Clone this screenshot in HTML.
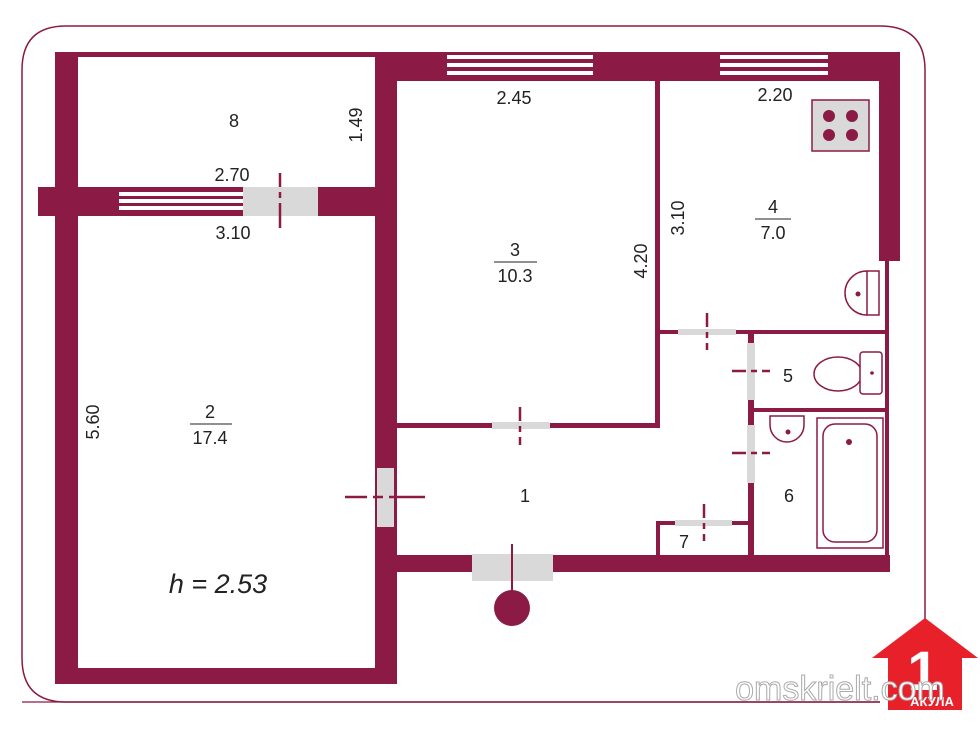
<!DOCTYPE html>
<html><head><meta charset="utf-8"><style>
html,body{margin:0;padding:0;background:#fff;}
svg{display:block;}
text{font-family:"Liberation Sans",sans-serif;fill:#222;}
</style></head><body>
<svg width="980" height="733" viewBox="0 0 980 733" xmlns="http://www.w3.org/2000/svg">
<path d="M925 620 L925 70 Q925 26 880 26 L66 26 Q22 26 22 70 L22 658 Q22 702 66 702 L880 702" fill="none" stroke="#8b1a45" stroke-width="1.5"/>
<g fill="#8b1a45">
<rect x="55" y="52" width="23" height="632"/>
<rect x="55" y="52" width="320" height="5"/>
<rect x="38" y="187" width="337" height="29"/>
<rect x="55" y="668" width="342" height="16"/>
<rect x="375" y="52" width="22" height="632"/>
<rect x="375" y="52" width="525" height="29"/>
<rect x="879" y="52" width="21" height="209"/>
<rect x="885" y="261" width="4" height="311"/>
<rect x="655" y="81" width="5" height="346"/>
<rect x="397" y="423" width="263" height="5"/>
<rect x="655" y="330" width="234" height="4"/>
<rect x="748" y="330" width="6" height="242"/>
<rect x="750" y="408" width="139" height="4"/>
<rect x="656" y="521" width="98" height="4"/>
<rect x="656" y="521" width="4" height="40"/>
<rect x="397" y="555" width="493" height="17"/>
</g>
<g>
<rect x="117" y="190" width="126" height="23" fill="#8b1a45"/>
<rect x="119" y="192" width="124" height="4" fill="#fff"/>
<rect x="119" y="199" width="124" height="4" fill="#fff"/>
<rect x="119" y="206" width="124" height="4" fill="#fff"/>
<rect x="447" y="55" width="146" height="4" fill="#fff"/>
<rect x="447" y="63" width="146" height="4" fill="#fff"/>
<rect x="447" y="71" width="146" height="4" fill="#fff"/>
<rect x="720" y="55" width="108" height="4" fill="#fff"/>
<rect x="720" y="63" width="108" height="4" fill="#fff"/>
<rect x="720" y="71" width="108" height="4" fill="#fff"/>
</g>
<g fill="#d9d9d9">
<rect x="243" y="187" width="75" height="29"/>
<rect x="492" y="422" width="58" height="7"/>
<rect x="678" y="329" width="58" height="6"/>
<rect x="747" y="343" width="8" height="57"/>
<rect x="747" y="425" width="8" height="58"/>
<rect x="675" y="520" width="57" height="6"/>
<rect x="377" y="468" width="17" height="59"/>
<rect x="472" y="554" width="81" height="27"/>
</g>
<g stroke="#8b1a45" stroke-width="2.5" stroke-dasharray="14,5,6,5,30" fill="none">
<line x1="280" y1="173" x2="280" y2="228"/>
<line x1="520" y1="407" x2="520" y2="445"/>
<line x1="707" y1="313" x2="707" y2="350"/>
<line x1="732" y1="371" x2="770" y2="371"/>
<line x1="732" y1="453" x2="770" y2="453"/>
<line x1="704" y1="504" x2="704" y2="541"/>
<line x1="345" y1="497" x2="425" y2="497" stroke-dasharray="22,6,10,6,36"/>
</g>
<line x1="512" y1="544" x2="512" y2="595" stroke="#8b1a45" stroke-width="2"/>
<ellipse cx="512" cy="608" rx="18" ry="18" fill="#8b1a45"/>
<rect x="812" y="100" width="57" height="51" fill="#d9d9d9" stroke="#8b1a45" stroke-width="1.5"/>
<g fill="#8b1a45">
<circle cx="829" cy="116" r="6"/><circle cx="852" cy="116" r="6"/>
<circle cx="829" cy="135" r="6"/><circle cx="852" cy="135" r="6"/>
</g>
<g stroke="#8b1a45" stroke-width="1.5" fill="none">
<path d="M867 271 A22 22 0 0 0 867 315"/>
<rect x="867" y="271" width="12" height="44"/>
</g>
<circle cx="858" cy="294" r="2.5" fill="#8b1a45"/>
<g stroke="#8b1a45" stroke-width="1.5" fill="none">
<ellipse cx="838" cy="374" rx="24" ry="17"/>
<rect x="860" y="352" width="22" height="42" rx="3" fill="#fff"/>
</g>
<circle cx="872" cy="373" r="1.8" fill="#8b1a45"/>
<g stroke="#8b1a45" stroke-width="1.5" fill="none">
<path d="M770 416 L804 416 L804 425 A17 17 0 0 1 770 425 Z"/>
</g>
<circle cx="788" cy="432" r="2.5" fill="#8b1a45"/>
<g stroke="#8b1a45" stroke-width="1.5" fill="none">
<rect x="817" y="418" width="66" height="130"/>
<rect x="823" y="424" width="54" height="118" rx="12"/>
</g>
<ellipse cx="849" cy="442" rx="3" ry="3" fill="#8b1a45"/>
<g font-size="18">
<text x="234" y="127" text-anchor="middle">8</text>
<text x="232" y="181" text-anchor="middle">2.70</text>
<text x="233" y="239" text-anchor="middle">3.10</text>
<text transform="translate(362,125) rotate(-90)" text-anchor="middle">1.49</text>
<text x="514" y="104" text-anchor="middle">2.45</text>
<text x="775" y="101" text-anchor="middle">2.20</text>
<text x="515" y="256" text-anchor="middle">3</text>
<text x="515" y="282" text-anchor="middle">10.3</text>
<text transform="translate(647,261) rotate(-90)" text-anchor="middle">4.20</text>
<text transform="translate(684,218) rotate(-90)" text-anchor="middle">3.10</text>
<text x="773" y="213" text-anchor="middle">4</text>
<text x="773" y="239" text-anchor="middle">7.0</text>
<text transform="translate(99,422) rotate(-90)" text-anchor="middle">5.60</text>
<text x="210" y="418" text-anchor="middle">2</text>
<text x="210" y="444" text-anchor="middle">17.4</text>
<text x="525" y="502" text-anchor="middle">1</text>
<text x="788" y="382" text-anchor="middle">5</text>
<text x="789" y="502" text-anchor="middle">6</text>
<text x="684" y="548" text-anchor="middle">7</text>
</g>
<g stroke="#222" stroke-width="1">
<line x1="494" y1="262" x2="537" y2="262"/>
<line x1="755" y1="219" x2="791" y2="219"/>
<line x1="190" y1="424" x2="232" y2="424"/>
</g>
<text x="218" y="593" text-anchor="middle" font-size="27" font-style="italic">h = 2.53</text>
<path d="M925 618 L978 658 L962 658 L962 710 L888 710 L888 658 L872 658 Z" fill="#e8202a"/>
<text x="923" y="690" text-anchor="middle" font-size="56" font-weight="bold" style="fill:#fff">1</text>
<text x="932" y="706" text-anchor="middle" font-size="13" font-weight="bold" style="fill:#fff">АКУЛА</text>
<line x1="22" y1="702" x2="880" y2="702" stroke="#8b1a45" stroke-width="1.2"/>
<text x="840" y="700" text-anchor="middle" font-size="34" style="fill:#fff;stroke:#aaa;stroke-width:1">omskrielt.com</text>
</svg>
</body></html>
